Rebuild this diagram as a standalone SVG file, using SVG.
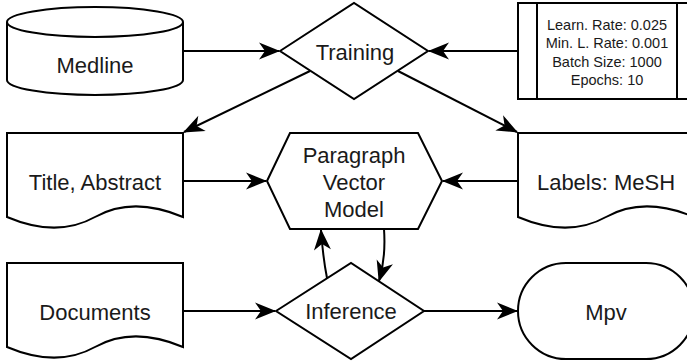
<svg xmlns="http://www.w3.org/2000/svg" width="687" height="362" viewBox="0 0 687 362">
<style>
.s{fill:#fff;stroke:#000;stroke-width:2}
.c{fill:none;stroke:#000;stroke-width:2}
.t{font-family:"Liberation Sans",Arial,Helvetica,sans-serif;font-size:22px;fill:#1a1a1a;text-anchor:middle}
.p{font-family:"Liberation Sans",Arial,Helvetica,sans-serif;font-size:14.5px;fill:#1a1a1a;text-anchor:middle}
</style>
<defs>
<marker id="ah" viewBox="-22 -10 24 20" refX="0" refY="0" markerWidth="24" markerHeight="20" markerUnits="userSpaceOnUse" orient="auto">
<path d="M1,0 L-20,-8.5 L-14,0 L-20,8.5 Z" fill="#000"/>
</marker>
</defs>
<rect width="687" height="362" fill="#fff"/>
<g id="medline">
<path class="s" d="M7,22 A88,15 0 0 1 183,22 L183,80 A88,15 0 0 1 7,80 Z"/>
<path class="c" d="M7,22 A88,15 0 0 0 183,22"/>
<text class="t" x="95" y="73">Medline</text>
</g>
<g id="training">
<polygon class="s" points="280,51 354,3 428,51 354,99"/>
<text class="t" x="355" y="60">Training</text>
</g>
<g id="params">
<rect class="s" x="518" y="3" width="178" height="96"/>
<line class="c" x1="537" y1="3" x2="537" y2="99"/>
<line class="c" x1="677" y1="3" x2="677" y2="99"/>
<text class="p" x="607" y="30">Learn. Rate: 0.025</text>
<text class="p" x="607" y="48">Min. L. Rate: 0.001</text>
<text class="p" x="607" y="67">Batch Size: 1000</text>
<text class="p" x="607" y="85">Epochs: 10</text>
</g>
<g id="title-abstract">
<path class="s" d="M7,133 H183 V217 C150,203 120,203 95,217 C70,231 40,231 7,217 Z"/>
<text class="t" x="95" y="190">Title, Abstract</text>
</g>
<g id="model">
<polygon class="s" points="267,181 290,133 418,133 442,181 418,229 290,229"/>
<text class="t" x="354" y="163">Paragraph</text>
<text class="t" x="354" y="190">Vector</text>
<text class="t" x="354" y="217">Model</text>
</g>
<g id="labels">
<path class="s" d="M518,133 H694 V217 C661,203 631,203 606,217 C581,231 551,231 518,217 Z"/>
<text class="t" x="606" y="190">Labels: MeSH</text>
</g>
<g id="documents">
<path class="s" d="M7,263 H183 V347 C150,333 120,333 95,347 C70,361 40,361 7,347 Z"/>
<text class="t" x="95" y="320">Documents</text>
</g>
<g id="inference">
<polygon class="s" points="276,311 351,263 424,311 351,359"/>
<text class="t" x="351" y="319">Inference</text>
</g>
<g id="mpv">
<rect class="s" x="518" y="263" width="176" height="96" rx="48" ry="48"/>
<text class="t" x="606" y="320">Mpv</text>
</g>
<g id="connectors">
<path class="c" d="M183,51 H279" marker-end="url(#ah)"/>
<path class="c" d="M518,51 H429" marker-end="url(#ah)"/>
<path class="c" d="M310,71 L184,132" marker-end="url(#ah)"/>
<path class="c" d="M398,71 L517,132" marker-end="url(#ah)"/>
<path class="c" d="M183,181 H266" marker-end="url(#ah)"/>
<path class="c" d="M518,181 H443" marker-end="url(#ah)"/>
<path class="c" d="M183,311 H275" marker-end="url(#ah)"/>
<path class="c" d="M424,311 H517" marker-end="url(#ah)"/>
<path class="c" d="M327,278 Q323,258 321,230" marker-end="url(#ah)"/>
<path class="c" d="M384,229 Q386,258 379,281" marker-end="url(#ah)"/>
</g>
</svg>
